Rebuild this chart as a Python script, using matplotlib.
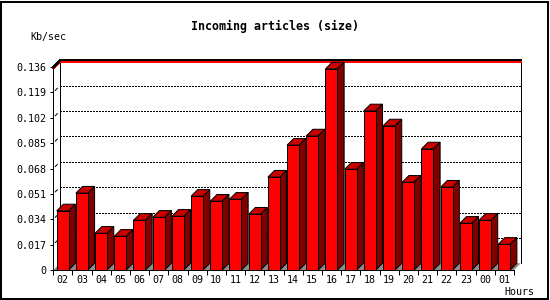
import matplotlib
matplotlib.use("Agg")
import matplotlib.pyplot as plt
from matplotlib.patches import Polygon, Rectangle
import numpy as np

# data
hours = ['02', '03', '04', '05', '06', '07', '08', '09', '10', '11', '12', '13',
         '14', '15', '16', '17', '18', '19', '20', '21', '22', '23', '00', '01']
kb_per_sec = [0.0396, 0.0515, 0.0246, 0.0226, 0.0333, 0.0353, 0.0360, 0.0494,
              0.0461, 0.0474, 0.0374, 0.0622, 0.0836, 0.0898, 0.1347, 0.0675,
              0.1066, 0.0965, 0.0588, 0.0811, 0.0555, 0.0313, 0.0333, 0.0172]
y_ticks = [0, 0.017, 0.034, 0.051, 0.068, 0.085, 0.102, 0.119, 0.136]
y_labels = ['0', '0.017', '0.034', '0.051', '0.068', '0.085', '0.102', '0.119', '0.136']
y_max = 0.136

W, H = 550, 300
plt.rcParams['font.family'] = ['DejaVu Sans Mono']
plt.rcParams['lines.scale_dashes'] = False

fig = plt.figure(figsize=(W / 100, H / 100), dpi=100)
fig.patch.set_facecolor('white')

# front plane of the plot in pixels
left_px, right_px, bottom_px, top_px = 53.3, 514.0, 270.0, 67.0
ax = fig.add_axes([left_px / W, 1 - bottom_px / H,
                   (right_px - left_px) / W, (bottom_px - top_px) / H])
n = len(hours)
ax.set_xlim(0, n)
ax.set_ylim(0, y_max)
ax.set_facecolor('none')

px_x = (right_px - left_px) / n
px_y = (bottom_px - top_px) / y_max
depth = 6.7
dx = depth / px_x
dy = depth / px_y
one_px_y = 1 / px_y
lw = 0.72

# back wall grid lines (dotted) with little diagonal continuation
for t in y_ticks[1:-1]:
    ax.plot([dx, n + dx], [t + dy, t + dy], color='black', lw=lw,
            linestyle=(0, (1.44, 1.44)), clip_on=False, zorder=1, antialiased=False)
    ax.plot([0.3 * dx, 0.6 * dx], [t + 0.3 * dy, t + 0.6 * dy], color='black',
            lw=lw, clip_on=False, zorder=1)

# back wall frame
ax.plot([dx, dx], [dy, y_max + dy], color='black', lw=lw, clip_on=False, zorder=2,
        antialiased=False)
ax.plot([n + dx, n + dx], [dy, y_max + dy], color='black', lw=lw, clip_on=False, zorder=2,
        antialiased=False)
ax.plot([0, dx, n + dx], [y_max - 1.4 * one_px_y, y_max + dy - 1.4 * one_px_y,
                          y_max + dy - 1.4 * one_px_y],
        color='red', lw=lw, clip_on=False, zorder=2, antialiased=False)
ax.plot([0, dx, n + dx], [y_max, y_max + dy, y_max + dy], color='black', lw=lw,
        clip_on=False, zorder=2, antialiased=False)

# floor
ax.add_patch(Polygon([(0, 0), (dx, dy), (n + dx, dy), (n, 0)], closed=True,
                     facecolor='#8c8c8c', edgecolor='none', clip_on=False, zorder=2))

# bars
bar_off = 3.4 / px_x
bar_w = 12 / px_x
x = np.arange(n)
x0 = x + bar_off
x1 = x0 + bar_w
ax.bar(x0, kb_per_sec, width=bar_w, align='edge', color='#ff0000',
       edgecolor='black', linewidth=lw, zorder=4, clip_on=False)
for a, b, v in zip(x0, x1, kb_per_sec):
    ax.add_patch(Polygon([(a, v), (a + dx, v + dy), (b + dx, v + dy), (b, v)], closed=True,
                         facecolor='#c80000', edgecolor='black', lw=lw, clip_on=False, zorder=3))
    ax.add_patch(Polygon([(b, 0), (b, v), (b + dx, v + dy), (b + dx, dy)], closed=True,
                         facecolor='#800000', edgecolor='black', lw=lw, clip_on=False, zorder=3))

# axes / ticks
for s in ['top', 'right']:
    ax.spines[s].set_visible(False)
for s in ['left', 'bottom']:
    ax.spines[s].set_linewidth(lw)
    ax.spines[s].set_zorder(5)
ax.set_yticks(y_ticks)
ax.set_yticklabels(y_labels)
ax.tick_params(axis='y', length=2.2, width=lw, pad=3, labelsize=7.2)
ax.set_xticks(x + bar_off + bar_w / 2)
ax.set_xticklabels(hours)
ax.set_xticks(np.arange(n + 1), minor=True)
ax.tick_params(axis='x', which='major', length=0, pad=3.5, labelsize=7.2)
ax.tick_params(axis='x', which='minor', length=3.6, width=lw)

# texts
fig.text(275 / W, 1 - 26.5 / H, 'Incoming articles (size)', ha='center', va='center',
         fontsize=8.4, fontweight='bold')
fig.text(30 / W, 1 - 37 / H, 'Kb/sec', ha='left', va='center', fontsize=7.2)
fig.text(504 / W, 1 - 292 / H, 'Hours', ha='left', va='center', fontsize=7.2)

# outer frame
fig.patches.append(Rectangle((1 / W, 1 / H), 547 / W, 297 / H, transform=fig.transFigure,
                             fill=False, edgecolor='black', lw=1.44, figure=fig))

fig.savefig('out.png', dpi=100)
